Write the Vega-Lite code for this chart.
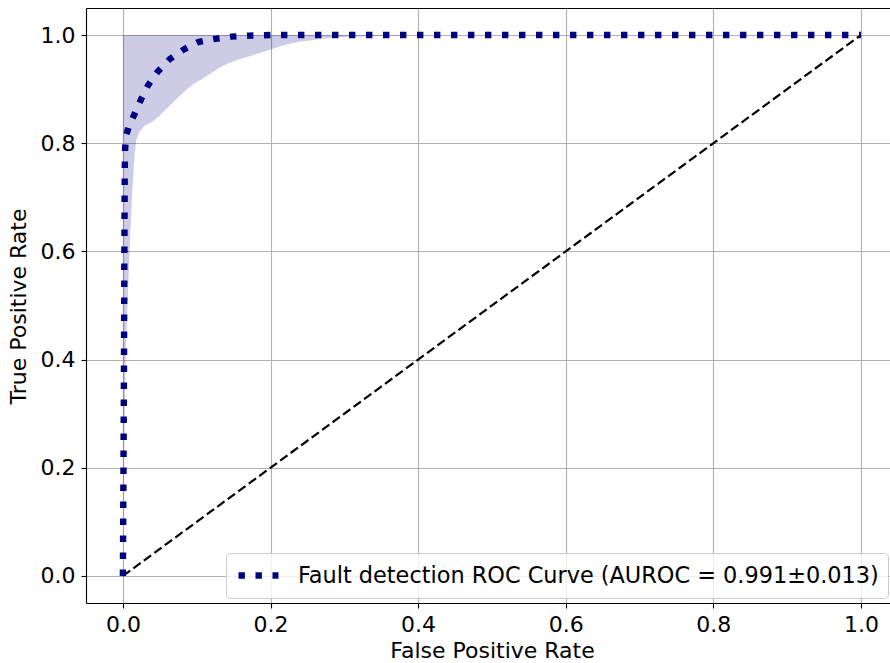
{
  "$schema": "https://vega.github.io/schema/vega-lite/v6.json",
  "autosize": "none",
  "padding": {"left": 86, "top": 8, "right": 0, "bottom": 60},
  "width": 804,
  "height": 595,
  "background": "white",
  "config": {
    "view": {"stroke": null},
    "font": "DejaVu Sans",
    "axis": {
      "labelFont": "DejaVu Sans",
      "titleFont": "DejaVu Sans",
      "labelFontSize": 22,
      "titleFontSize": 22,
      "titleFontWeight": "normal",
      "labelColor": "black",
      "titleColor": "black",
      "domainColor": "black",
      "domainWidth": 1.1,
      "tickColor": "black",
      "tickWidth": 1.1,
      "tickSize": 5,
      "gridColor": "#b0b0b0",
      "gridWidth": 1.1,
      "gridOpacity": 1
    },
    "legend": {
      "labelFont": "DejaVu Sans",
      "labelFontSize": 22.4,
      "labelColor": "black",
      "labelLimit": 1000
    }
  },
  "datasets": {
    "mean": [
      {"fpr": 0.0, "tpr": 0.0, "s": "Fault detection ROC Curve (AUROC = 0.991±0.013)"},
      {"fpr": 0.0008, "tpr": 0.2, "s": "Fault detection ROC Curve (AUROC = 0.991±0.013)"},
      {"fpr": 0.0015, "tpr": 0.4, "s": "Fault detection ROC Curve (AUROC = 0.991±0.013)"},
      {"fpr": 0.002, "tpr": 0.6, "s": "Fault detection ROC Curve (AUROC = 0.991±0.013)"},
      {"fpr": 0.0025, "tpr": 0.75, "s": "Fault detection ROC Curve (AUROC = 0.991±0.013)"},
      {"fpr": 0.003, "tpr": 0.79, "s": "Fault detection ROC Curve (AUROC = 0.991±0.013)"},
      {"fpr": 0.0045, "tpr": 0.815, "s": "Fault detection ROC Curve (AUROC = 0.991±0.013)"},
      {"fpr": 0.008, "tpr": 0.831, "s": "Fault detection ROC Curve (AUROC = 0.991±0.013)"},
      {"fpr": 0.0145, "tpr": 0.85, "s": "Fault detection ROC Curve (AUROC = 0.991±0.013)"},
      {"fpr": 0.0235, "tpr": 0.878, "s": "Fault detection ROC Curve (AUROC = 0.991±0.013)"},
      {"fpr": 0.034, "tpr": 0.907, "s": "Fault detection ROC Curve (AUROC = 0.991±0.013)"},
      {"fpr": 0.047, "tpr": 0.932, "s": "Fault detection ROC Curve (AUROC = 0.991±0.013)"},
      {"fpr": 0.063, "tpr": 0.955, "s": "Fault detection ROC Curve (AUROC = 0.991±0.013)"},
      {"fpr": 0.082, "tpr": 0.973, "s": "Fault detection ROC Curve (AUROC = 0.991±0.013)"},
      {"fpr": 0.102, "tpr": 0.987, "s": "Fault detection ROC Curve (AUROC = 0.991±0.013)"},
      {"fpr": 0.125, "tpr": 0.993, "s": "Fault detection ROC Curve (AUROC = 0.991±0.013)"},
      {"fpr": 0.147, "tpr": 0.997, "s": "Fault detection ROC Curve (AUROC = 0.991±0.013)"},
      {"fpr": 0.171, "tpr": 0.999, "s": "Fault detection ROC Curve (AUROC = 0.991±0.013)"},
      {"fpr": 0.2, "tpr": 1.0, "s": "Fault detection ROC Curve (AUROC = 0.991±0.013)"},
      {"fpr": 1.0, "tpr": 1.0, "s": "Fault detection ROC Curve (AUROC = 0.991±0.013)"}
    ],
    "band": [
      {"fpr": 0.0, "lower": 0.0, "upper": 1.0},
      {"fpr": 0.002, "lower": 0.25, "upper": 1.0},
      {"fpr": 0.004, "lower": 0.42, "upper": 1.0},
      {"fpr": 0.0068, "lower": 0.52, "upper": 1.0},
      {"fpr": 0.010, "lower": 0.635, "upper": 1.0},
      {"fpr": 0.013, "lower": 0.72, "upper": 1.0},
      {"fpr": 0.016, "lower": 0.78, "upper": 1.0},
      {"fpr": 0.018, "lower": 0.805, "upper": 1.0},
      {"fpr": 0.022, "lower": 0.82, "upper": 1.0},
      {"fpr": 0.029, "lower": 0.832, "upper": 1.0},
      {"fpr": 0.04, "lower": 0.84, "upper": 1.0},
      {"fpr": 0.05, "lower": 0.851, "upper": 1.0},
      {"fpr": 0.054, "lower": 0.857, "upper": 1.0},
      {"fpr": 0.063, "lower": 0.869, "upper": 1.0},
      {"fpr": 0.072, "lower": 0.881, "upper": 1.0},
      {"fpr": 0.083, "lower": 0.895, "upper": 1.0},
      {"fpr": 0.095, "lower": 0.909, "upper": 1.0},
      {"fpr": 0.106, "lower": 0.918, "upper": 1.0},
      {"fpr": 0.117, "lower": 0.927, "upper": 1.0},
      {"fpr": 0.128, "lower": 0.937, "upper": 1.0},
      {"fpr": 0.14, "lower": 0.946, "upper": 1.0},
      {"fpr": 0.155, "lower": 0.954, "upper": 1.0},
      {"fpr": 0.172, "lower": 0.961, "upper": 1.0},
      {"fpr": 0.185, "lower": 0.967, "upper": 1.0},
      {"fpr": 0.199, "lower": 0.973, "upper": 1.0},
      {"fpr": 0.212, "lower": 0.979, "upper": 1.0},
      {"fpr": 0.226, "lower": 0.984, "upper": 1.0},
      {"fpr": 0.24, "lower": 0.988, "upper": 1.0},
      {"fpr": 0.253, "lower": 0.99, "upper": 1.0},
      {"fpr": 0.27, "lower": 0.993, "upper": 1.0},
      {"fpr": 0.284, "lower": 0.995, "upper": 1.0},
      {"fpr": 0.3, "lower": 0.997, "upper": 1.0},
      {"fpr": 0.33, "lower": 0.998, "upper": 1.0},
      {"fpr": 0.36, "lower": 0.999, "upper": 1.0},
      {"fpr": 0.4, "lower": 1.0, "upper": 1.0},
      {"fpr": 1.0, "lower": 1.0, "upper": 1.0}
    ],
    "diag": [
      {"fpr": 0.0, "tpr": 0.0},
      {"fpr": 1.0, "tpr": 1.0}
    ]
  },
  "layer": [
    {
      "data": {"name": "band"},
      "mark": {"type": "area", "color": "#000080", "opacity": 0.2, "interpolate": "linear"},
      "encoding": {
        "x": {
          "field": "fpr", "type": "quantitative",
          "scale": {"domain": [-0.05, 1.0394], "nice": false, "zero": false},
          "axis": {
            "values": [0, 0.2, 0.4, 0.6, 0.8, 1.0],
            "format": ".1f",
            "title": "False Positive Rate",
            "labelPadding": 6,
            "titleX": 406,
            "titleY": 54,
            "titleAnchor": null,
            "titleAlign": "center",
            "titleBaseline": "alphabetic",
            "grid": true
          }
        },
        "y": {
          "field": "lower", "type": "quantitative",
          "scale": {"domain": [-0.05, 1.05], "nice": false, "zero": false},
          "axis": {
            "values": [0, 0.2, 0.4, 0.6, 0.8, 1.0],
            "format": ".1f",
            "title": "True Positive Rate",
            "labelPadding": 6,
            "titleX": -61,
            "titleY": 298,
            "titleAnchor": null,
            "titleAlign": "center",
            "titleAngle": -90,
            "titleBaseline": "alphabetic",
            "grid": true
          }
        },
        "y2": {"field": "upper"}
      }
    },
    {
      "data": {"name": "diag"},
      "mark": {"type": "line", "color": "black", "strokeWidth": 2.2, "strokeDash": [9, 4], "strokeCap": "butt"},
      "encoding": {
        "x": {"field": "fpr", "type": "quantitative", "axis": null},
        "y": {"field": "tpr", "type": "quantitative"}
      }
    },
    {
      "data": {"name": "mean"},
      "mark": {"type": "line", "strokeWidth": 6.4, "strokeDash": [6.4, 10.6], "strokeCap": "butt"},
      "encoding": {
        "x": {"field": "fpr", "type": "quantitative", "axis": null},
        "y": {"field": "tpr", "type": "quantitative"},
        "color": {
          "field": "s", "type": "nominal",
          "scale": {"range": ["#000080"]},
          "legend": {
            "title": null,
            "orient": "none",
            "legendX": 140,
            "legendY": 545,
            "symbolType": "M-2,0H2",
            "symbolSize": 400,
            "symbolStrokeWidth": 6.4,
            "symbolDash": [6.4, 10.6],
            "symbolOffset": 10,
            "labelOffset": 26,
            "padding": 9,
            "strokeColor": "#cccccc",
            "fillColor": "rgba(255,255,255,0.8)",
            "cornerRadius": 4
          }
        }
      }
    },
    {
      "data": {"name": "diag"},
      "mark": {"type": "point", "opacity": 0},
      "encoding": {
        "x": {
          "field": "fpr", "type": "quantitative",
          "axis": {"orient": "top", "labels": false, "ticks": false, "grid": false, "title": null, "domain": true}
        },
        "y": {"field": "tpr", "type": "quantitative"}
      }
    }
  ],
  "resolve": {"axis": {"x": "independent"}}
}
